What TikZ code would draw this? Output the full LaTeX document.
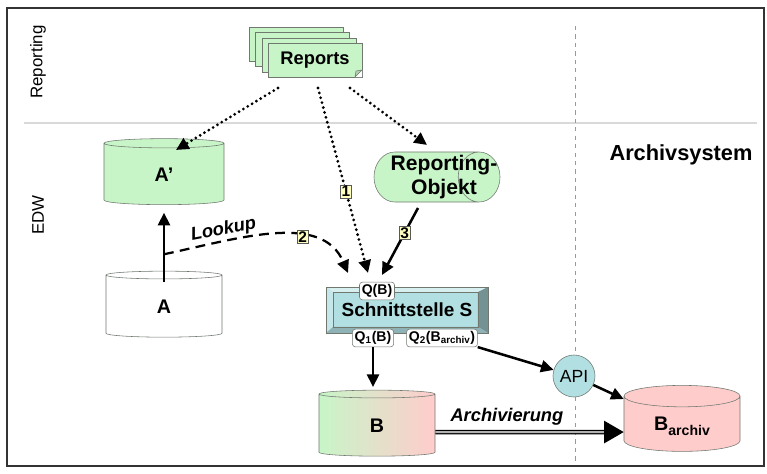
\documentclass[tikz,border=0pt]{standalone}
\usepackage{fontspec}
\setmainfont{Liberation Sans}
\usepackage{tikz}
\usetikzlibrary{arrows.meta,shapes.geometric}
\definecolor{pagegreen}{HTML}{C8F5C8}
\definecolor{archpink}{HTML}{FFCCCC}
\definecolor{ifcyan}{HTML}{B2DFE2}
\definecolor{numyellow}{HTML}{FFFFC0}
\definecolor{edge}{HTML}{707870}
\newcommand{\fsz}[1]{\fontsize{#1}{#1}\selectfont}
\tikzset{>/.tip={Triangle[length=9pt,width=8.5pt]},
  db/.style={cylinder, shape border rotate=90, aspect=0.33, draw=edge, minimum width=2.9cm, minimum height=1.65cm, font=\bfseries\fsz{14}},
  page/.style={draw=edge, fill=pagegreen},
  tag/.style={draw=edge, fill=white, rounded corners=2pt, inner sep=1.6pt, font=\bfseries\fsz{10}},
  num/.style={draw=gray!70!black, solid, line width=0.4pt, fill=numyellow, inner sep=0.8pt, font=\bfseries\fsz{11}},
  dotarrow/.style={->, line width=2.2pt, line cap=round, dash pattern=on 0pt off 3.6pt},
  dasharrow/.style={->, line width=1.6pt, dash pattern=on 7pt off 4.5pt},
  solidarrow/.style={->, line width=1.8pt},
  dblarrow/.style={-{Triangle[length=14pt,width=16pt]}, line width=0.9pt, double=gray!60, double distance=1.4pt}}

\begin{document}
\begin{tikzpicture}[x=0.025cm,y=-0.025cm]
\useasboundingbox (0,0) rectangle (767,473);
\draw[line width=1.5pt, black!80] (7,8) rectangle (764,466);
\draw[line width=1.5pt, gray!30] (24,123) -- (757,123);
\draw[gray!80, dashed, line width=0.7pt] (575,26) -- (575,462);

\node[rotate=90, font=\fsz{12}] (lrep) at (38,62) {Reporting};
\node[rotate=90, font=\fsz{12}] (ledw) at (38,215) {EDW};
\node[font=\bfseries\fsz{15.5}] (larch) at (681,155) {Archivsystem};

\foreach \dx/\dy in {19/16,13/11,6/5}
  \draw[page] (268-\dx,43-\dy) rectangle (362-\dx,77-\dy);
\node[page, minimum width=2.35cm, minimum height=0.85cm, font=\bfseries\fsz{13}] (rep) at (315,60) {Reports};
\fill[white] (362,77) -- (362,70) -- (355,77) -- cycle;
\filldraw[draw=edge, fill=pagegreen!70!gray] (362,70) -- (355,77) -- (356,71) -- cycle;

\node[db, fill=pagegreen, minimum width=3cm] (A1) at (164,175) {A'};
\node[db, fill=white] (A) at (164,307) {A};
\node[db, left color=pagegreen, right color=archpink] (B) at (377,426) {B};
\node[db, fill=archpink] (Barch) at (682,426) {B\raisebox{-3.5pt}{\fsz{10}archiv}};
\node[cylinder, draw=edge, fill=pagegreen, aspect=0.96, inner sep=0pt, minimum height=3.15cm, minimum width=1.25cm, align=center, anchor=shape center, font=\bfseries\fontsize{15}{17}\selectfont] (RO) at (437,177) {\makebox[0pt]{\hspace{25pt}Reporting-}\\\makebox[0pt]{\hspace{25pt}Objekt}};

\node[draw=edge, fill=ifcyan, minimum width=4.03cm, minimum height=1.13cm, font=\bfseries\fsz{13.5}] (S) at (407,310) {Schnittstelle S};
\fill[ifcyan!50!white] (S.north west) -- (S.north east) -- ([shift={(-10,5)}]S.north east) -- ([shift={(7,5)}]S.north west) -- cycle;
\fill[ifcyan!75!white] (S.north west) -- ([shift={(7,5)}]S.north west) -- ([shift={(7,-6)}]S.south west) -- (S.south west) -- cycle;
\fill[ifcyan!65!black] (S.north east) -- ([shift={(-10,5)}]S.north east) -- ([shift={(-10,-6)}]S.south east) -- (S.south east) -- cycle;
\fill[ifcyan!80!black] (S.south west) -- ([shift={(7,-6)}]S.south west) -- ([shift={(-10,-6)}]S.south east) -- (S.south east) -- cycle;
\draw[edge] (S.north west) rectangle (S.south east);
\draw[edge, thin] ([shift={(7,5)}]S.north west) rectangle ([shift={(-10,-6)}]S.south east);

\node[tag] (QB) at (377,291) {Q(B)};
\node[tag] (Q1) at (373,338) {Q\textsubscript{1}(B)};
\node[tag] (Q2) at (442,338) {Q\textsubscript{2}(B\textsubscript{archiv})};
\node[circle, draw=edge, fill=ifcyan, minimum size=1.05cm, inner sep=0pt, font=\fsz{12.5}] (API) at (574,376) {API};

\draw[solidarrow, shorten >=5.5pt] ([shift={(0,-25)}]A.center) -- coordinate[pos=0.36] (lk) (A1);
\draw[dasharrow] (lk) .. controls (240,238) and (322,212) .. ([shift={(-29,-18)}]QB.center)
  node[pos=0.27, above, sloped, inner sep=1pt, font=\bfseries\itshape\fsz{13}] {Lookup}
  node[pos=0.65, num] {2};
\draw[dotarrow] ([shift={(-37,28)}]rep.center) -- ([shift={(12,-25)}]A1.center);
\draw[dotarrow] ([shift={(3,28)}]rep.center) -- node[pos=0.56, num] {1} ([shift={(-9,-18)}]QB.center);
\draw[dotarrow] ([shift={(35,28)}]rep.center) -- ([shift={(-10,-32)}]RO.shape center);
\draw[solidarrow] ([shift={(-19,31)}]RO.shape center) -- node[pos=0.37, num] {3} ([shift={(5,-16)}]QB.center);
\draw[solidarrow, shorten >=2pt] (Q1.south) -- (Q1.south |- B.north);
\draw[solidarrow] (Q2.south east) -- (API);
\draw[solidarrow] (API) -- (Barch);
\draw[dblarrow] ([yshift=-4.3pt]B.east) -- node[pos=0.38, above=1pt, font=\bfseries\itshape\fsz{13}] {Archivierung} ([yshift=-4.3pt]Barch.west);
\end{tikzpicture}
\end{document}
